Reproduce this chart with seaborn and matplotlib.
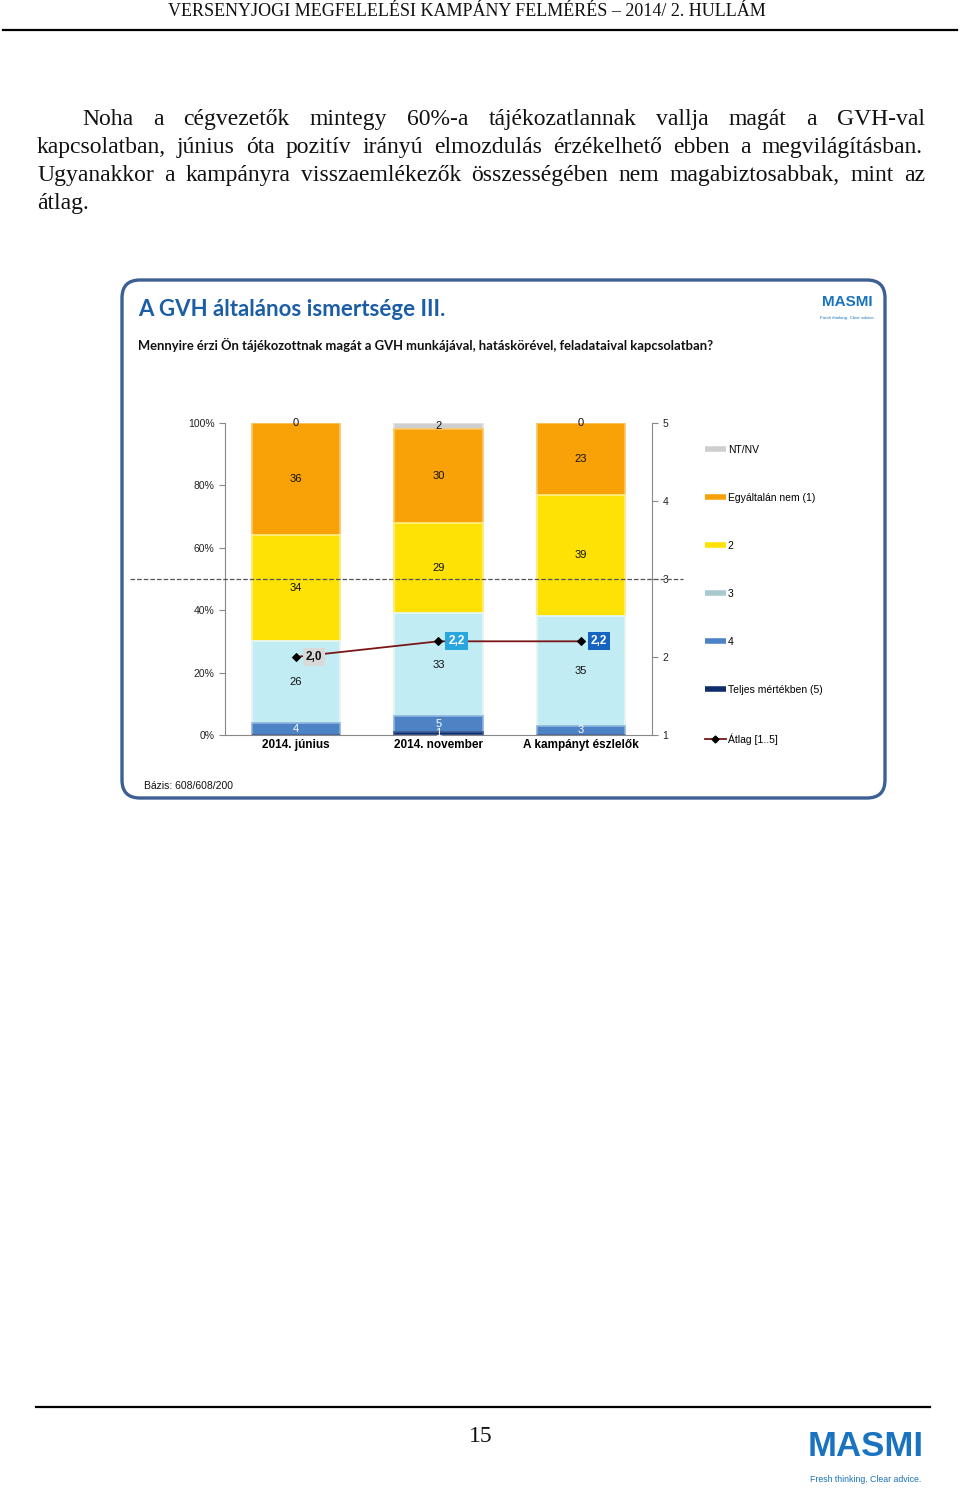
import numpy as np
import pandas as pd
import matplotlib
matplotlib.use("Agg")
import matplotlib.pyplot as plt
import seaborn as sns
from matplotlib.lines import Line2D
from matplotlib.patches import FancyBboxPatch
from matplotlib.transforms import IdentityTransform

# --- DATA ---
groups = ["2014. június", "2014. november", "A kampányt észlelők"]
teljes = [0, 1, 0]          # Teljes mértékben (5)
negy = [4, 5, 3]            # 4
harom = [26, 33, 35]        # 3
ketto = [34, 29, 39]        # 2
egyaltalan = [36, 30, 23]   # Egyáltalán nem (1)
ntnv = [0, 2, 0]            # NT/NV
atlag = [2.0, 2.2, 2.2]     # Átlag [1..5]
atlag_labels = ["2,0", "2,2", "2,2"]

seg_names = ["Teljes mértékben (5)", "4", "3", "2", "Egyáltalán nem (1)", "NT/NV"]
seg_values = [teljes, negy, harom, ketto, egyaltalan, ntnv]
seg_colors = ["#0f2c6b", "#4d83c4", "#c2ecf3", "#ffe205", "#f8a208", "#cfcfcf"]
seg_edges = ["#3a5a96", "#8fb4de", "#e8f8fb", "#fff08a", "#fcc766", "#e4e4e4"]
seg_text = ["white", "white", "#111111", "#111111", "#111111", "#111111"]
label_bg = ["#d9d9d9", "#2aa6df", "#1565c0"]
label_fg = ["#111111", "white", "white"]

W, H = 960, 1489
def fx(x):
    return x / W
def fy(y):
    return 1 - y / H

plt.rcParams["font.family"] = ["Liberation Sans", "DejaVu Sans"]
fig = plt.figure(figsize=(9.6, 14.89), dpi=100)
renderer = fig.canvas.get_renderer()

# --- PAGE TEXT ---
serif = dict(family=["Liberation Serif", "DejaVu Serif"], color="#111111")
fig.text(fx(467), fy(11), "VERSENYJOGI MEGFELELÉSI KAMPÁNY FELMÉRÉS – 2014/ 2. HULLÁM",
         ha="center", va="center", fontsize=13, **serif)
fig.add_artist(Line2D([fx(3), fx(957)], [fy(30), fy(30)], color="black", lw=1.6))

para = [
    ("Noha a cégvezetők mintegy 60%-a tájékozatlannak vallja magát a GVH-val", 82, 925, 125, True),
    ("kapcsolatban, június óta pozitív irányú elmozdulás érzékelhető ebben a megvilágításban.", 37, 923, 153, True),
    ("Ugyanakkor a kampányra visszaemlékezők összességében nem magabiztosabbak, mint az", 37, 925, 181, True),
    ("átlag.", 37, 925, 209, False),
]
for line, x0, x1, yb, just in para:
    words = line.split(" ")
    txts = [fig.text(0, 0, w, fontsize=17, va="baseline", **serif) for w in words]
    widths = [t.get_window_extent(renderer).width for t in txts]
    gap = (x1 - x0 - sum(widths)) / max(len(words) - 1, 1) if just else 5
    x = x0
    for t, w in zip(txts, widths):
        t.set_position((fx(x), fy(yb)))
        x += w + gap

# --- CHART BOX ---
fig.add_artist(FancyBboxPatch((122, H - 798), 763, 518,
                              boxstyle="round,pad=0,rounding_size=18",
                              transform=IdentityTransform(), fill=False,
                              ec="#3d6094", lw=2.4))
fig.text(fx(138), fy(310), "A GVH általános ismertsége III.", fontsize=16,
         fontweight="bold", color="#1c5ea6", family=["Lato", "DejaVu Sans"], va="center")
fig.text(fx(138), fy(345),
         "Mennyire érzi Ön tájékozottnak magát a GVH munkájával, hatáskörével, feladataival kapcsolatban?",
         fontsize=9.4, fontweight="bold", color="#111111", family=["Lato", "DejaVu Sans"], va="center")
fig.text(fx(847), fy(302), "MASMI", fontsize=11, fontweight="bold", color="#1a73bf",
         ha="center", va="center")
fig.text(fx(847), fy(318), "Fresh thinking. Clear advice.", fontsize=3.2, color="#1a73bf",
         ha="center", va="center")
fig.text(fx(144), fy(786), "Bázis: 608/608/200", fontsize=7.5, color="#111111", va="center")

# --- STACKED BARS ---
ax = fig.add_axes([225 / W, 1 - 735 / H, 427 / W, 312.3 / H])
cum = np.cumsum(np.array(seg_values), axis=0)
for i in range(len(seg_names) - 1, -1, -1):
    sns.barplot(x=groups, y=cum[i], color=seg_colors[i], width=0.62, ax=ax,
                edgecolor=seg_edges[i], linewidth=1.2, saturation=1)

# segment labels
for i, name in enumerate(seg_names):
    for j in range(len(groups)):
        v = seg_values[i][j]
        if i == 0 and v == 0:
            continue
        mid = cum[i][j] - v / 2
        ax.text(j, mid, f"{v}", ha="center", va="center", fontsize=8, color=seg_text[i])

ax.set_ylim(0, 100)
ax.set_xlim(-0.5, 2.5)
ax.set_yticks([0, 20, 40, 60, 80, 100])
ax.set_yticklabels([f"{v}%" for v in [0, 20, 40, 60, 80, 100]])
ax.set_xlabel("")
ax.set_ylabel("")
ax.tick_params(axis="y", direction="out", length=4, labelsize=7.5, color="#888888", labelcolor="#222222")
ax.tick_params(axis="x", length=0, labelsize=8.5, pad=3)
for lbl in ax.get_xticklabels():
    lbl.set_fontweight("bold")
for s in ["top", "right"]:
    ax.spines[s].set_visible(False)
for s in ["left", "bottom"]:
    ax.spines[s].set_color("#888888")
ax.set_facecolor("none")

# --- AVERAGE LINE (secondary axis) ---
ax2 = ax.twinx()
sns.lineplot(x=np.arange(len(groups)), y=atlag, ax=ax2, color="#7a1515", lw=1.3,
             marker="D", markersize=4, markerfacecolor="black", markeredgecolor="black")
ax2.set_ylim(1, 5)
ax2.set_xlim(-0.5, 2.5)
ax2.set_yticks([1, 2, 3, 4, 5])
ax2.tick_params(axis="y", direction="out", length=4, labelsize=7.5, color="#888888", labelcolor="#222222")
for s in ["top", "left", "bottom"]:
    ax2.spines[s].set_visible(False)
ax2.spines["right"].set_color("#888888")
ax2.axhline(3, xmin=-0.222, xmax=1.073, clip_on=False, ls="--", color="#555555", lw=0.9)
for j, (v, t) in enumerate(zip(atlag, atlag_labels)):
    ax2.annotate(t, (j, v), xytext=(18, 0), textcoords="offset pixels", ha="center", va="center",
                 fontsize=8.5, fontweight="bold", color=label_fg[j],
                 bbox=dict(boxstyle="square,pad=0.25", fc=label_bg[j], ec="none"))

# --- LEGEND ---
leg_order = ["NT/NV", "Egyáltalán nem (1)", "2", "3", "4", "Teljes mértékben (5)"]
handles = []
for name in leg_order:
    k = seg_names.index(name)
    handles.append(Line2D([], [], color=seg_colors[k] if name != "3" else "#a9c9d0",
                          lw=4, solid_capstyle="butt"))
handles.append(Line2D([], [], color="#7a1515", lw=1.3, marker="D", markersize=3.5,
                      markerfacecolor="black", markeredgecolor="black"))
fig.legend(handles, leg_order + ["Átlag [1..5]"], loc="upper left",
           bbox_to_anchor=(fx(705), fy(445)), frameon=False, fontsize=7.5,
           labelspacing=3.65, handlelength=2.0, handletextpad=0.2,
           borderaxespad=0, borderpad=0)

# --- FOOTER ---
fig.add_artist(Line2D([fx(36), fx(930)], [fy(1407), fy(1407)], color="black", lw=1.6))
fig.text(fx(481), fy(1436), "15", fontsize=17, ha="center", va="center", **serif)
fig.text(fx(866), fy(1446), "MASMI", fontsize=25, fontweight="bold", color="#1a73bf",
         ha="center", va="center")
fig.text(fx(866), fy(1480), "Fresh thinking. Clear advice.", fontsize=6.3, color="#1a73bf",
         ha="center", va="center", family=["Liberation Sans Narrow", "Liberation Sans"])

fig.savefig("out.png", dpi=100)
